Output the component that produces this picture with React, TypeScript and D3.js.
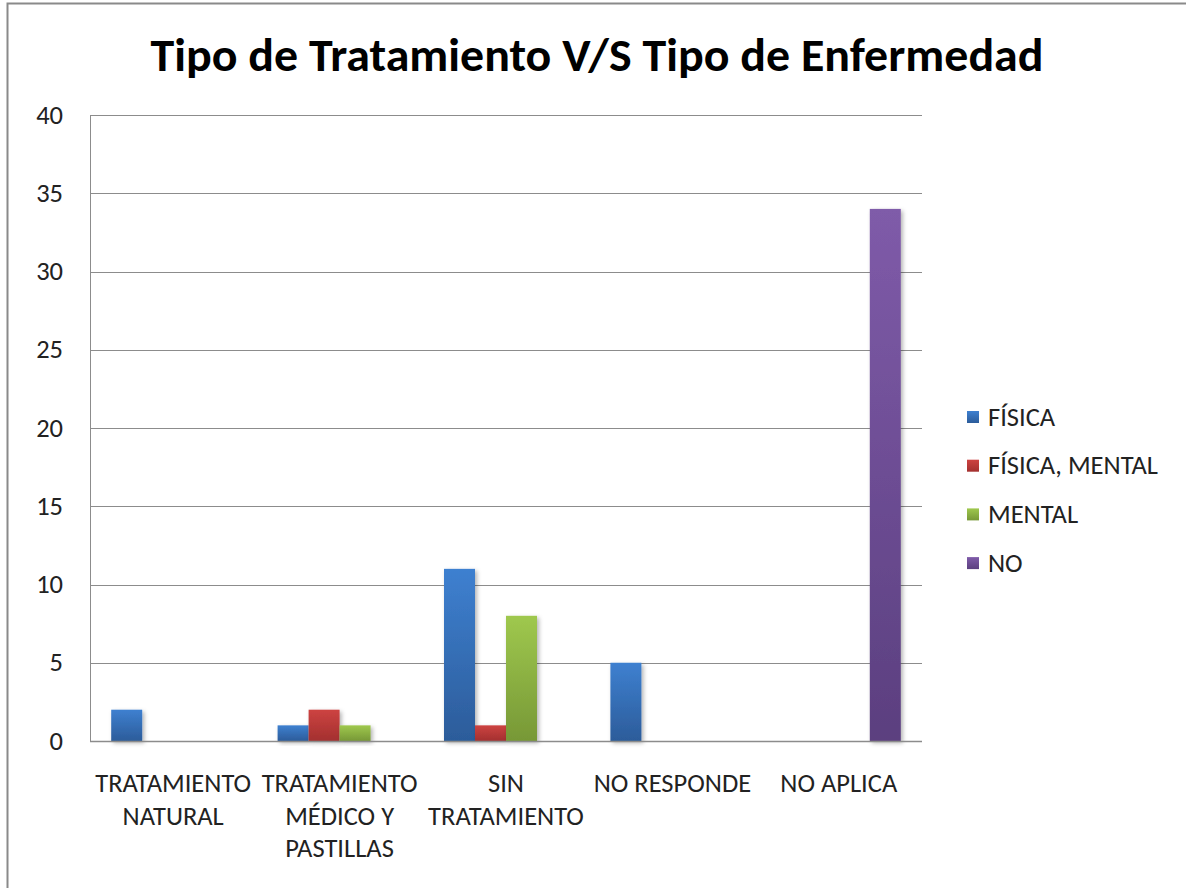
import React from "react";
import * as d3 from "d3";

const categories = [
  ["TRATAMIENTO", "NATURAL"],
  ["TRATAMIENTO", "MÉDICO Y", "PASTILLAS"],
  ["SIN", "TRATAMIENTO"],
  ["NO RESPONDE"],
  ["NO APLICA"],
];
const seriesNames = ["FÍSICA", "FÍSICA, MENTAL", "MENTAL", "NO"];
const fisica = [2, 1, 11, 5, 0];
const fisicaMental = [0, 2, 1, 0, 0];
const mental = [0, 1, 8, 0, 0];
const noSerie = [0, 0, 0, 0, 34];
const yTicks = [0, 5, 10, 15, 20, 25, 30, 35, 40];
const title = "Tipo de Tratamiento V/S Tipo de Enfermedad";

const seriesValues = [fisica, fisicaMental, mental, noSerie];
const colorsTop = ["#3e80d0", "#cd4341", "#9fc84e", "#7f5ba9"];
const colorsBottom = ["#2c5c9a", "#a3302f", "#779836", "#5b3f7f"];

const W = 1186;
const H = 888;
const left = 90;
const right = 922;
const top = 115;
const bottom = 741;
const FONT = "Carlito, 'Open Sans', 'Noto Sans', sans-serif";
const FS = 26.5;

export default function App() {
  const x0 = d3
    .scaleBand<number>()
    .domain(categories.map((_, i) => i))
    .range([left, right])
    .padding(0);
  const x1 = d3
    .scaleBand<number>()
    .domain(seriesNames.map((_, i) => i))
    .range([0, x0.bandwidth()])
    .paddingInner(0)
    .paddingOuter(0.684);
  const y = d3.scaleLinear().domain([0, 40]).range([bottom, top]);

  return (
    <svg
      width={W}
      height={H}
      style={{ position: "absolute", left: 0, top: 0, background: "#fff" }}
    >
      <defs>
        {seriesNames.map((_, i) => (
          <linearGradient key={i} id={`g${i}`} x1="0" y1="0" x2="0" y2="1">
            <stop offset="0%" stopColor={colorsTop[i]} />
            <stop offset="100%" stopColor={colorsBottom[i]} />
          </linearGradient>
        ))}
        <filter id="sh" x="-20%" y="-20%" width="150%" height="150%">
          <feDropShadow dx="2" dy="2" stdDeviation="2" floodColor="#000" floodOpacity="0.3" />
        </filter>
      </defs>
      <rect x={0} y={0} width={W} height={H} fill="#fff" />
      <rect x={7.5} y={3.5} width={W + 20} height={H + 20} fill="none" stroke="#8a8a8a" strokeWidth={2} />
      <text
        x={597}
        y={71}
        textAnchor="middle"
        fontFamily={FONT}
        fontWeight="bold"
        fontSize={47}
        textLength={893}
        lengthAdjust="spacingAndGlyphs"
        fill="#000"
      >
        {title}
      </text>
      {yTicks.map((t) => (
        <g key={t}>
          {t > 0 && (
            <line x1={left} x2={right} y1={Math.round(y(t)) + 0.5} y2={Math.round(y(t)) + 0.5} stroke="#8c8c8c" strokeWidth={1} />
          )}
          <text x={63} y={y(t)} dy="0.33em" textAnchor="end" fontFamily={FONT} fontSize={FS} fill="#222">
            {t}
          </text>
        </g>
      ))}
      <line x1={left + 0.5} x2={left + 0.5} y1={top} y2={bottom} stroke="#8c8c8c" strokeWidth={1} />
      {categories.map((c, ci) =>
        seriesValues.map((vals, si) => {
          const v = vals[ci];
          if (!v) return null;
          const bx = (x0(ci) as number) + (x1(si) as number);
          return (
            <rect
              key={`${ci}-${si}`}
              x={bx}
              y={y(v)}
              width={x1.bandwidth()}
              height={y(0) - y(v)}
              fill={`url(#g${si})`}
              filter="url(#sh)"
            />
          );
        })
      )}
      <line x1={left} x2={right} y1={bottom + 0.5} y2={bottom + 0.5} stroke="#8c8c8c" strokeWidth={1.5} />
      {categories.map((lines, ci) => (
        <text
          key={ci}
          x={(x0(ci) as number) + x0.bandwidth() / 2}
          y={792}
          textAnchor="middle"
          fontFamily={FONT}
          fontSize={FS}
          fill="#222"
        >
          {lines.map((l, li) => (
            <tspan key={li} x={(x0(ci) as number) + x0.bandwidth() / 2} dy={li === 0 ? 0 : 32.5}>
              {l}
            </tspan>
          ))}
        </text>
      ))}
      {seriesNames.map((s, i) => (
        <g key={s} transform={`translate(967, ${417 + i * 48.7})`}>
          <rect x={0} y={-6} width={12} height={12} fill={`url(#g${i})`} />
          <text x={21} y={0} dy="0.33em" fontFamily={FONT} fontSize={FS} fill="#222">
            {s}
          </text>
        </g>
      ))}
    </svg>
  );
}
